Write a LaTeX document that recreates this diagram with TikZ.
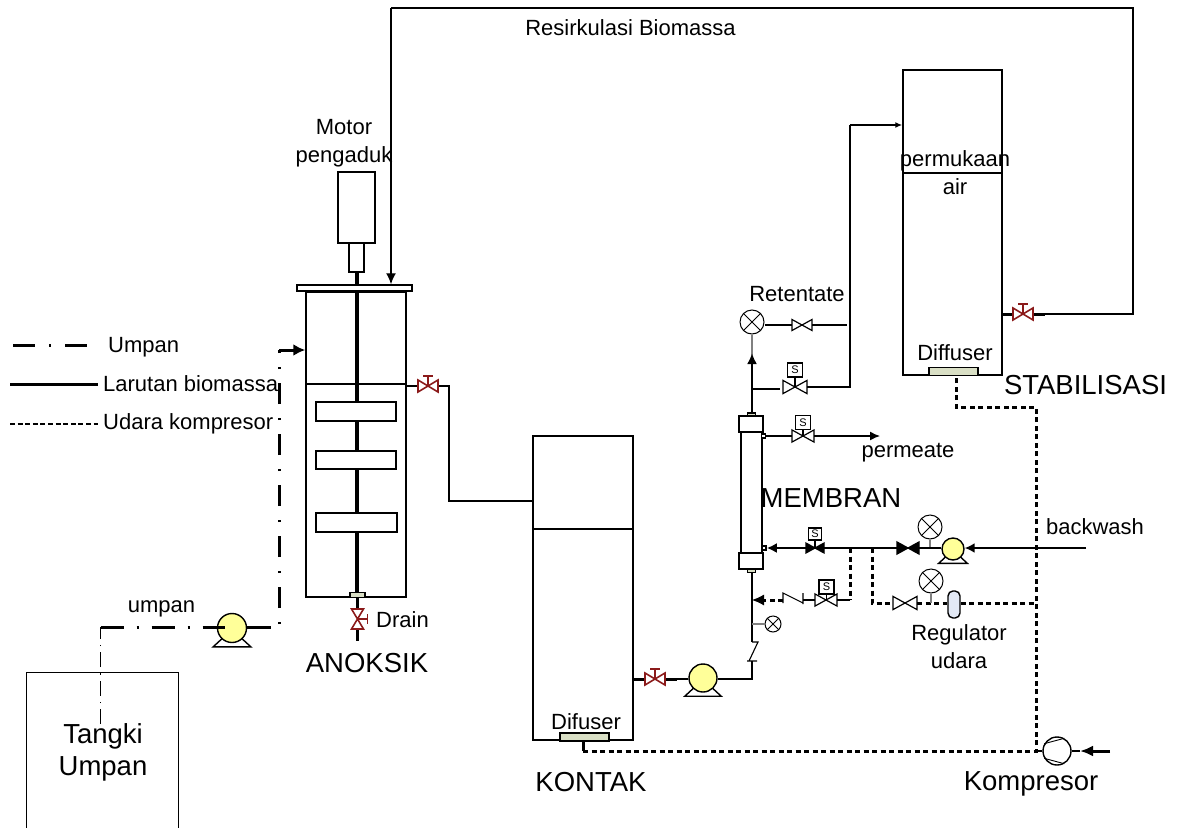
\documentclass[tikz,border=0pt]{standalone}
\usepackage{fontspec}
\setmainfont{Liberation Sans}
\usetikzlibrary{arrows.meta}

\definecolor{valvered}{HTML}{8B1A1A}
\definecolor{pumpyellow}{HTML}{FFFF99}
\definecolor{difbeige}{HTML}{D9DFC5}
\definecolor{regblue}{HTML}{E3E9F5}

\tikzset{
  lbl/.style={font=\fontsize{22}{28}\selectfont, inner sep=0pt, align=center},
  biglbl/.style={font=\fontsize{27.5}{32}\selectfont, inner sep=0pt, align=center},
  box/.style={draw, line width=1.5pt, inner sep=0pt, fill=white},
  sbox/.style={draw, line width=1.2pt, inner sep=0pt, fill=white, minimum width=15pt, minimum height=14pt, font=\fontsize{11}{11}\selectfont},
  difbox/.style={box, fill=difbeige, minimum width=49pt, minimum height=8pt},
  wire/.style={line width=1.4pt},
  thickwire/.style={line width=3pt},
  feedthick/.style={line width=3pt, dash pattern=on 23pt off 13pt on 2pt off 13pt},
  feedup/.style={line width=3pt, dash pattern=on 2pt off 14pt on 21pt off 14pt},
  feedthin/.style={line width=1.2pt, dash pattern=on 15pt off 6pt on 1.5pt off 6pt},
  airwire/.style={line width=3pt, dash pattern=on 5pt off 3.5pt},
  tip/.style={-{Latex[length=11pt,width=10pt]}},
  pics/valve/.style={code={
    \coordinate (-l) at (-#1,0);
    \coordinate (-r) at (#1,0);
    \coordinate (-c) at (0,0);
    \draw[pic actions, line width=1.2pt] (-#1,-0.55*#1) -- (#1,0.55*#1) -- (#1,-0.55*#1) -- (-#1,0.55*#1) -- cycle;
  }},
  pics/redvalve/.style={code={
    \coordinate (-l) at (-11,0);
    \coordinate (-r) at (11,0);
    \draw[valvered, line width=1.6pt, fill=white] (-10,-6) -- (10,6) -- (10,-6) -- (-10,6) -- cycle;
    \draw[valvered, line width=1.6pt] (0,0) -- (0,-10) (-5,-10) -- (5,-10);
  }},
  pics/pump/.style={code={
    \draw[line width=1.4pt, fill=white] (-0.65*#1,0.7*#1) -- (-1.3*#1,1.3*#1) -- (1.3*#1,1.3*#1) -- (0.65*#1,0.7*#1);
    \node[circle, draw, line width=1.4pt, fill=pumpyellow, inner sep=0pt, minimum size=2*#1 pt] (-c) at (0,0) {};
  }},
  pics/gauge/.style={code={
    \node[circle, draw, line width=1pt, fill=white, inner sep=0pt, minimum size=2*#1 pt] (-c) at (0,0) {};
    \draw[line width=1pt] (-c.45) -- (-c.225) (-c.135) -- (-c.315);
  }},
}

\begin{document}
\begin{tikzpicture}[x=1pt, y=-1pt]
  \useasboundingbox (0,0) rectangle (1177,827);

  % tanks
  \node[minimum width=152pt, minimum height=155pt, inner sep=0pt] (tangki) at (102.5,750) {};
  \draw[wire] (tangki.south west) -- (tangki.north west) -- (tangki.north east) -- (tangki.south east);
  \node[box, minimum width=100pt, minimum height=305pt] (anoksik) at (356,444.5) {};
  \node[box, minimum width=100pt, minimum height=304pt] (kontak) at (583,588) {};
  \node[box, minimum width=99pt, minimum height=305pt] (stabil) at (952.5,222.5) {};
  \coordinate (surfA) at (306,384);
  \coordinate (surfK) at (533,529);
  \coordinate (surfS) at (903,173);
  \draw[wire] (surfA) -- (surfA -| anoksik.east);
  \draw[wire] (surfK) -- (surfK -| kontak.east);
  \draw[wire] (surfS) -- (surfS -| stabil.east);

  % motor, lid, mixer
  \node[box, minimum width=37pt, minimum height=71pt] (motor) at (356.5,207.5) {};
  \node[box, minimum width=15pt, minimum height=29pt] (kopling) at (356.5,257.5) {};
  \coordinate (shaftEnd) at (356.5,594);
  \draw[line width=4pt] (kopling.south) -- (shaftEnd);
  \node[box, minimum width=115pt, minimum height=6pt] (tutup) at (354.5,288) {};
  \node[box, minimum width=80pt, minimum height=19pt] (blade1) at (356,411.5) {};
  \node[box, minimum width=80pt, minimum height=18pt] (blade2) at (356,460) {};
  \node[box, minimum width=81pt, minimum height=19pt] (blade3) at (356.5,522.5) {};
  \node[box, fill=difbeige, minimum width=15pt, minimum height=5pt] (bearing) at (357.5,595) {};

  % drain
  \pic[rotate=-90] (vDrain) at (357.5,619) {redvalve};
  \coordinate (drainEnd) at (357.5,641);
  \draw[line width=3.4pt] (bearing.south) -- (vDrain-l);
  \draw[line width=3.4pt] (vDrain-r) -- (drainEnd);

  % feed line
  \pic (pUmpan) at (232,628) {pump=14.5};
  \coordinate (feedTop) at (100.5,627);
  \coordinate (feedIn) at (100.5,724);
  \coordinate (feedWest) at (225,627);
  \coordinate (feedEast) at (271,627);
  \coordinate (feedCnr) at (279,624);
  \coordinate (feedUp) at (279,350);
  \draw[feedthin] (feedIn) -- (feedTop);
  \draw[feedthick] (feedTop) -- (feedWest);
  \draw[thickwire] (pUmpan-c.east |- feedEast) -- (feedEast);
  \draw[feedup] (feedCnr) -- (feedUp);
  \draw[line width=3pt, -{Latex[length=12pt,width=12pt]}] (feedUp) -- (feedUp -| anoksik.west);

  % anoksik to kontak
  \pic (vAnoksik) at (428,386) {redvalve};
  \coordinate (k1) at (449,386);
  \coordinate (k2) at (449,501);
  \draw[wire] (anoksik.east |- vAnoksik-l) -- (vAnoksik-l);
  \draw[wire] (vAnoksik-r) -- (k1) -- (k2) -- (k2 -| kontak.west);

  % recycle
  \pic (vStabil) at (1023,314) {redvalve};
  \coordinate (r0) at (1045,314);
  \coordinate (r1) at (1133,314);
  \coordinate (r2) at (1133,8);
  \coordinate (r3) at (391,8);
  \draw[thickwire] (stabil.east |- vStabil-l) -- (vStabil-l);
  \draw[thickwire] (vStabil-r) -- (r0);
  \draw[wire] (r0) -- (r1) -- (r2) -- (r3);
  \draw[wire, tip] (r3) -- (r3 |- tutup.north);

  % kontak to membrane
  \pic (vKontak) at (655,679) {redvalve};
  \pic (pKontak) at (703,678) {pump=14};
  \coordinate (m0) at (677,679);
  \coordinate (m1) at (752,679);
  \coordinate (ck1) at (752,661);
  \coordinate (ck2) at (752,642);
  \draw[thickwire] (kontak.east |- vKontak-l) -- (vKontak-l);
  \draw[thickwire] (vKontak-r) -- (m0);
  \draw[wire] (m0) -- (pKontak-c.west |- m0);
  \draw[line width=1.8pt] (pKontak-c.east |- m1) -- (m1) -- (ck1);
  \draw[line width=1.1pt] (747,661) -- (757,661) -- (749,661) -- (758,642) -- (ck2);

  % membrane
  \node[box, minimum width=21pt, minimum height=125pt] (tube) at (751.5,492) {};
  \node[box, minimum width=24pt, minimum height=16pt] (capTop) at (751,424) {};
  \node[box, minimum width=24pt, minimum height=16pt] (capBot) at (751,561) {};
  \node[box, fill=difbeige, minimum width=8pt, minimum height=3pt] (tabTop) at (751.5,414.5) {};
  \node[box, fill=difbeige, minimum width=8pt, minimum height=3pt] (tabBot) at (751.5,571) {};
  \draw[line width=1.8pt] (ck2 |- tabBot.south) -- (ck2);

  % gauge on kontak line
  \pic (gLine) at (773,624) {gauge=8};
  \draw[gray, wire] (gLine-c.west) -- (gLine-c.west -| ck2);

  % retentate
  \pic (gRet) at (752,322) {gauge=12};
  \pic (vRet) at (802,325) {valve=10};
  \coordinate (retEnd) at (847,325);
  \draw[gray, wire] (gRet-c.south) -- (752,355);
  \draw[line width=2.2pt, -{Latex[length=11pt,width=10pt]}] (gRet-c.south |- tabTop.north) -- (752,353);
  \draw[wire] (gRet-c.east |- vRet-l) -- (vRet-l);
  \draw[wire] (vRet-r) -- (retEnd);

  % to stabilisasi
  \pic (vSta) at (795,387) {valve=12};
  \node[sbox] (sSta) at (795,370) {S};
  \coordinate (s0) at (753,389);
  \coordinate (s00) at (780,389);
  \coordinate (s1) at (850,387);
  \coordinate (s2) at (850,125);
  \draw[wire] (sSta.south) -- (vSta-c);
  \draw[wire] (s0) -- (s00);
  \draw[wire] (vSta-r) -- (s1) -- (s2);
  \draw[wire, -{Latex[length=7pt,width=6pt]}] (s2) -- (s2 -| stabil.west);

  % permeate
  \pic (vPer) at (803,436) {valve=11};
  \node[sbox] (sPer) at (803,422.5) {S};
  \node[box, minimum width=4pt, minimum height=4pt] (nozPer) at (763.5,436) {};
  \coordinate (perEnd) at (880,436);
  \draw[wire] (sPer.south) -- (vPer-c);
  \draw[wire] (nozPer.east) -- (vPer-l);
  \draw[wire, -{Latex[length=10pt,width=9pt]}] (vPer-r) -- (perEnd);

  % backwash
  \pic (pBack) at (953,549) {pump=11};
  \pic (gBack) at (930,527) {gauge=12};
  \pic[fill=black] (vBack) at (908,548) {valve=11};
  \pic[fill=black] (vBw) at (815,548) {valve=9};
  \node[sbox, minimum width=13pt, minimum height=12pt] (sBw) at (815,534) {S};
  \node[box, minimum width=4pt, minimum height=4pt] (nozBw) at (764,548) {};
  \coordinate (bwIn) at (1086,548);
  \draw[line width=1.8pt, -{Latex[length=10pt,width=10pt]}] (bwIn) -- (pBack-c.east |- bwIn);
  \draw[gray, wire] (gBack-c.south) -- (gBack-c.south |- vBack-c);
  \draw[line width=2pt] (pBack-c.west |- vBack-r) -- (vBack-r);
  \draw[line width=2pt] (vBack-l) -- (vBw-r);
  \draw[wire] (sBw.south) -- (vBw-c);
  \draw[line width=2pt, -{Latex[length=10pt,width=10pt]}] (vBw-l) -- (nozBw.east);

  % air from backwash branch to membrane
  \pic (vAir) at (826,600) {valve=11};
  \node[sbox] (sAir) at (826.5,587) {S};
  \coordinate (a1) at (850,548);
  \coordinate (a2) at (850,600);
  \coordinate (c1) at (803,600);
  \coordinate (c2) at (783,600);
  \coordinate (c3) at (763,600);
  \draw[airwire] (a1) -- (a2);
  \draw[wire] (a2) -- (vAir-r);
  \draw[wire] (sAir.south) -- (sAir.south |- vAir-c);
  \draw[wire] (vAir-l) -- (c1);
  \draw[line width=1.1pt] (803,593) -- (803,604) (803,603) -- (783,593) -- (783,603);
  \draw[airwire] (c2) -- (c3);
  \draw[line width=1pt, -{Latex[length=12pt,width=11pt]}] (c3) -- (c3 -| ck2);

  % air line with regulator
  \pic (vReg) at (905,603) {valve=12};
  \pic (gReg) at (931,581) {gauge=12};
  \node[draw, line width=1.4pt, fill=regblue, rounded corners=5pt, inner sep=0pt, minimum width=12pt, minimum height=27pt] (reg) at (954,604.5) {};
  \coordinate (b1) at (872,548);
  \coordinate (b2) at (872,603);
  \coordinate (airNode) at (1036,603);
  \draw[airwire] (b1) -- (b2) -- (vReg-l);
  \draw[airwire] (vReg-r) -- (reg.west |- vReg-r);
  \draw[wire, gray] (gReg-c.south) -- (gReg-c.south |- vReg-r);
  \draw[airwire] (reg.east |- airNode) -- (airNode);

  % compressor and air mains
  \node[circle, draw, wire, fill=white, inner sep=0pt, minimum size=28pt] (komp) at (1057,751) {};
  \draw[line width=.9pt] (komp.150) -- (komp.60) (komp.210) -- (komp.300);
  \coordinate (kompIn) at (1110,751);
  \coordinate (kompTip) at (1080,751);
  \coordinate (airCnr) at (1036,751);
  \coordinate (airTop) at (1036,407);
  \node[difbox] (difK) at (584.5,737) {};
  \node[difbox] (difS) at (953.5,371.5) {};
  \coordinate (d1) at (583,751);
  \coordinate (d2) at (956,407);
  \draw[wire] (komp.east) -- (kompTip);
  \draw[line width=3pt, -{Latex[length=13pt,width=11pt]}] (kompIn) -- (kompTip);
  \draw[wire] (komp.west) -- (airCnr);
  \draw[thickwire] (difK.south -| d1) -- (d1);
  \draw[airwire] (d1) -- (airCnr) -- (airTop) -- (d2) -- (difS.south -| d2);

  % legend
  \coordinate (leg1a) at (13,345);
  \coordinate (leg1b) at (88,345);
  \coordinate (leg2a) at (10,384);
  \coordinate (leg2b) at (98,384);
  \coordinate (leg3a) at (10,424);
  \coordinate (leg3b) at (98,424);
  \draw[line width=3pt, dash pattern=on 22pt off 14pt on 2pt off 14pt] (leg1a) -- (leg1b);
  \draw[line width=3pt] (leg2a) -- (leg2b);
  \draw[line width=2.6pt, dash pattern=on 5pt off 2.6pt] (leg3a) -- (leg3b);
  \node[lbl, anchor=west] (tUmpanLeg) at (108,347) {Umpan};
  \node[lbl, anchor=west] (tLarutan) at (103,384) {Larutan biomassa};
  \node[lbl, anchor=west] (tUdara) at (103,424) {Udara kompresor};

  % labels
  \node[lbl] (tRes) at (630.5,28) {Resirkulasi Biomassa};
  \node[lbl] (tMotor) at (344,143) {Motor\\pengaduk};
  \node[lbl] (tPerm) at (955,173) {permukaan\\air};
  \node[lbl] (tRet) at (797,294) {Retentate};
  \node[lbl] (tDifS) at (955,353) {Diffuser};
  \node[biglbl] (tStab) at (1085.5,385) {STABILISASI};
  \node[lbl] (tPermeate) at (908,453) {permeate};
  \node[biglbl] (tMem) at (831,498) {MEMBRAN};
  \node[lbl] (tBack) at (1095,527) {backwash};
  \node[lbl] (tReg) at (959,647) {Regulator\\udara};
  \node[lbl] (tUmpan) at (161.5,609) {umpan};
  \node[lbl, anchor=west] (tDrain) at (376,620) {Drain};
  \node[biglbl] (tAno) at (367,663) {ANOKSIK};
  \node[biglbl] (tTangki) at (103,752) {Tangki\\Umpan};
  \node[lbl] (tDifK) at (586,722) {Difuser};
  \node[biglbl] (tKon) at (591,782) {KONTAK};
  \node[biglbl] (tKomp) at (1031,784) {Kompresor};
\end{tikzpicture}
\end{document}
